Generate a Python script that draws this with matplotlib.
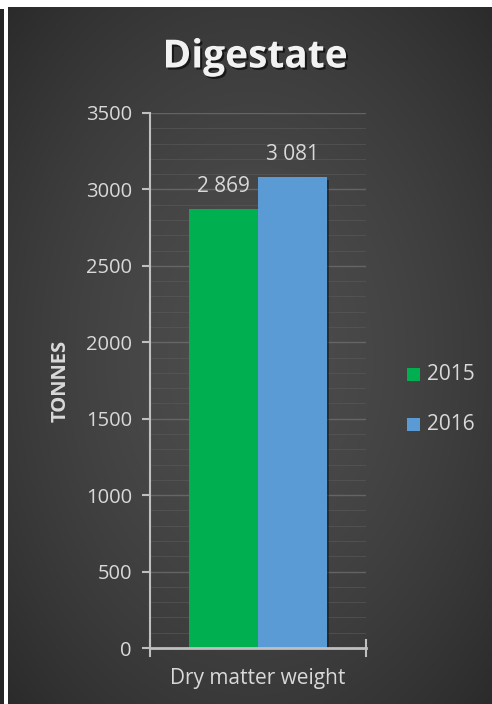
import numpy as np
import matplotlib
matplotlib.use("Agg")
import matplotlib.pyplot as plt
import matplotlib.patheffects as pe
from matplotlib.patches import Rectangle

plt.rcParams['font.family'] = ['Open Sans', 'DejaVu Sans']

# Data
category = "Dry matter weight"
years = ["2015", "2016"]
values = [2869, 3081]
value_labels = ["2 869", "3 081"]
colors = ["#00b050", "#5b9bd5"]
yticks = [0, 500, 1000, 1500, 2000, 2500, 3000, 3500]

W, H = 492, 704
fig = plt.figure(figsize=(W / 100, H / 100), dpi=100, facecolor="white")

# Dark panel with a soft radial glow
bg = fig.add_axes([8 / W, 0, (W - 8) / W, (H - 7) / H], zorder=-2)
ny, nx = 400, 300
yy, xx = np.mgrid[0:ny, 0:nx]
cx, cy = nx * 0.5, ny * 0.5
d = np.sqrt(((xx - cx) / (nx * 0.7)) ** 2 + ((yy - cy) / (ny * 0.7)) ** 2)
shade = np.clip(0.30 - 0.13 * d ** 1.6, 0.15, 0.30)
img = np.dstack([shade, shade, shade])
bg.imshow(img, aspect="auto", extent=[0, 1, 0, 1], interpolation="bilinear")
bg.set_axis_off()

# Narrow dark strip on the far left
strip = fig.add_axes([0, 0, 4 / W, (H - 9) / H], zorder=-2)
strip.set_facecolor("#262626")
strip.set_xticks([]); strip.set_yticks([])
for s in strip.spines.values():
    s.set_visible(False)

# Plot area
ax = fig.add_axes([150 / W, 1 - 648 / H, (366 - 150) / W, (648 - 113) / H])
ax.set_facecolor("none")
ax.set_xlim(-0.5, 0.5)
ax.set_ylim(0, 3500)

# Gridlines: faint every 100, slightly brighter every 500
for v in range(100, 3501, 100):
    major = v % 500 == 0
    ax.axhline(v, color="#707070" if major else "#5a5a5a",
               lw=1.0 if major else 0.8, alpha=0.75 if major else 0.6, zorder=0)

bw = 0.318
offsets = [-bw / 2, bw / 2]
for off, v, c, lab in zip(offsets, values, colors, value_labels):
    ax.bar(off, v, width=bw, color=c, zorder=3,
           path_effects=[pe.SimplePatchShadow(offset=(2, -2), shadow_rgbFace="#1a1a1a", alpha=0.6), pe.Normal()])
    ax.text(off, v + 80, lab, ha="center", va="bottom", fontsize=15, color="#d9d9d9", zorder=4)

ax.set_yticks(yticks)
ax.set_yticklabels([str(t) for t in yticks], fontsize=14.5, color="#d9d9d9")
ax.tick_params(axis="y", direction="out", length=6, width=1.5, color="#bfbfbf", pad=7)
ax.set_xticks([])
for name in ["top", "right"]:
    ax.spines[name].set_visible(False)
ax.spines["left"].set_color("#bfbfbf")
ax.spines["left"].set_linewidth(1.5)
ax.spines["bottom"].set_color("#bfbfbf")
ax.spines["bottom"].set_linewidth(2.0)
ax.spines["left"].set_zorder(5)
ax.spines["bottom"].set_zorder(5)

# Cross ticks at both ends of the category axis
for xv in (-0.5, 0.5):
    ax.plot([xv, xv], [-50, 50], color="#bfbfbf", lw=1.5, clip_on=False, zorder=6)

ax.set_ylabel("TONNES", fontsize=14.5, fontweight="bold", color="#d9d9d9", labelpad=11)
ax.text(0, -0.057, category, transform=ax.get_xaxis_transform(), ha="center", va="center",
        fontsize=15, color="#d9d9d9")

fig.text(255 / W, 1 - 57 / H, "Digestate", ha="center", va="center", fontsize=28,
         fontweight="bold", color="#f2f2f2",
         path_effects=[pe.withSimplePatchShadow(offset=(1.5, -1.5), shadow_rgbFace="#000000", alpha=0.6)])

# Legend
for i, (yr, c) in enumerate(zip(years, colors)):
    yc = 1 - (374 + 51 * i) / H
    fig.patches.append(Rectangle((407 / W, yc - 6.5 / H), 13 / W, 13 / H, transform=fig.transFigure,
                                 facecolor=c, edgecolor="none", figure=fig))
    fig.text(427 / W, yc, yr, ha="left", va="center", fontsize=15, color="#d9d9d9")

fig.savefig("out.png", dpi=100, facecolor=fig.get_facecolor())
